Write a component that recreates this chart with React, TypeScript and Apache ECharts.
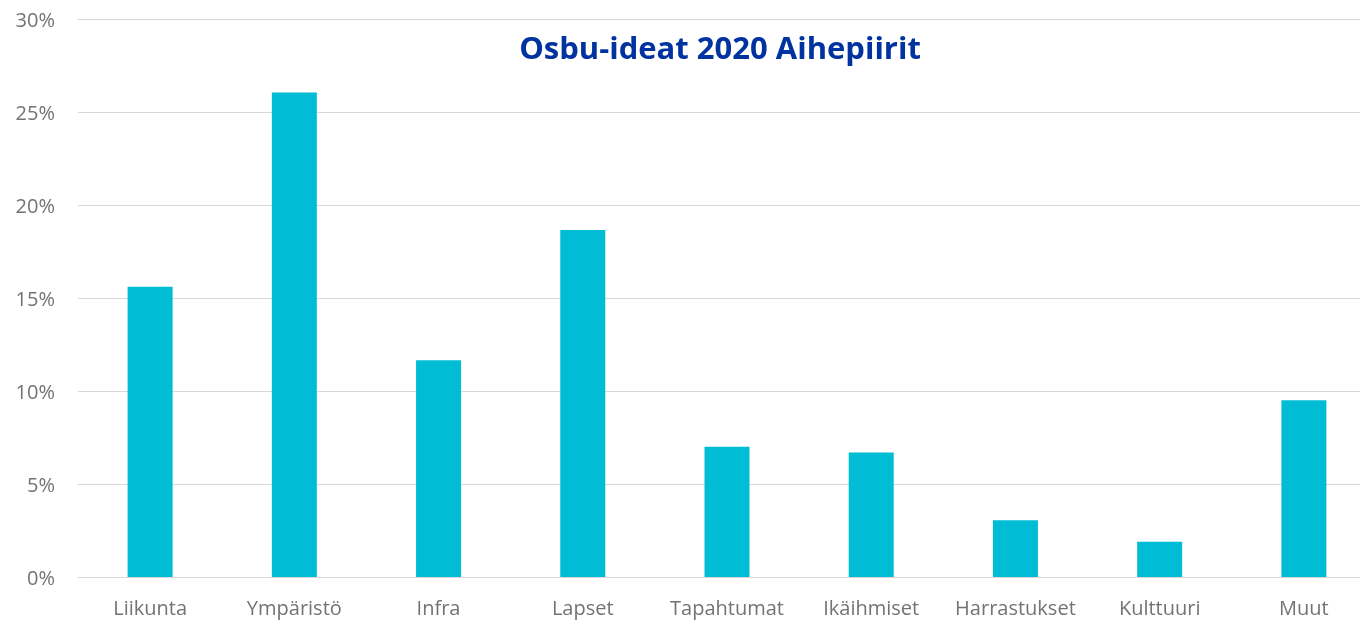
import React, { useEffect, useRef } from "react";
import * as echarts from "echarts";

const categories = ["Liikunta", "Ympäristö", "Infra", "Lapset", "Tapahtumat", "Ikäihmiset", "Harrastukset", "Kulttuuri", "Muut"];
const shares = [15.6, 26.05, 11.65, 18.65, 7.0, 6.7, 3.05, 1.9, 9.5];
const titleText = "Osbu-ideat 2020 Aihepiirit";

export default function App() {
  const ref = useRef<HTMLDivElement>(null);
  useEffect(() => {
    const chart = echarts.init(ref.current!, null, { renderer: "svg" });
    chart.setOption({
      animation: false,
      title: {
        text: titleText,
        left: 715,
        top: 26,
        textAlign: "center",
        textStyle: { color: "#0033A0", fontSize: 31, fontWeight: "bold", fontFamily: "Open Sans" },
      },
      grid: { left: 78, right: 0, top: 19, bottom: 46, containLabel: false },
      xAxis: {
        type: "category",
        data: categories,
        axisLine: { show: true, lineStyle: { color: "#d9d9d9", width: 1 } },
        axisTick: { show: false },
        axisLabel: { color: "#737373", fontSize: 20, fontFamily: "Open Sans", margin: 20, interval: 0, hideOverlap: false },
      },
      yAxis: {
        type: "value",
        min: 0,
        max: 30,
        interval: 5,
        axisLine: { show: false },
        axisTick: { show: false },
        splitLine: { lineStyle: { color: "#d9d9d9", width: 1 } },
        axisLabel: { color: "#737373", fontSize: 20, fontFamily: "Open Sans", margin: 23, formatter: "{value}%" },
      },
      series: [
        {
          type: "bar",
          data: shares,
          barWidth: 45,
          itemStyle: { color: "#00BCD4" },
        },
      ],
    });
    return () => chart.dispose();
  }, []);
  return (
    <div style={{ position: "fixed", left: 0, top: 0, width: 1360, height: 623, overflow: "hidden" }}>
      <div ref={ref} style={{ width: 1376, height: 623 }} />
    </div>
  );
}
